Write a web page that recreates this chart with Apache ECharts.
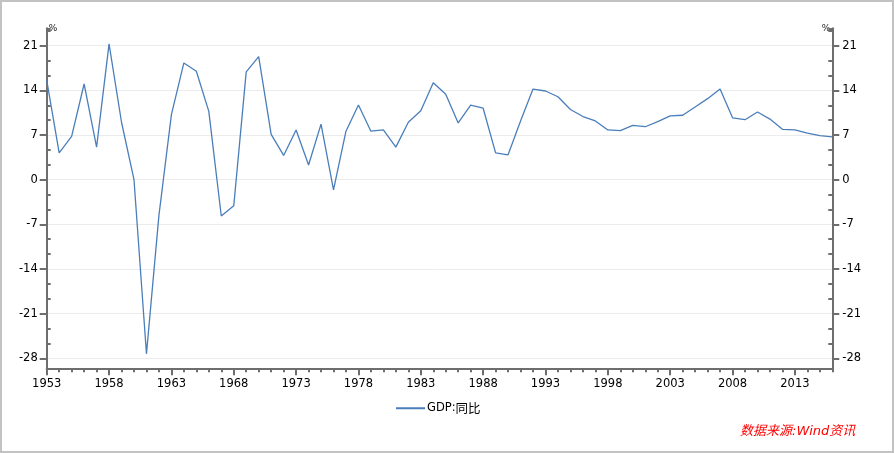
<!DOCTYPE html>
<html><head><meta charset="utf-8">
<script src="https://cdn.jsdelivr.net/npm/echarts@6/dist/echarts.min.js"></script>
<style>
html,body{margin:0;padding:0;background:#fff;}
#c{position:absolute;left:0;top:0;width:894px;height:453px;}
#frame{position:absolute;left:0;top:0;width:894px;height:453px;box-sizing:border-box;border:2px solid #c2c2c2;pointer-events:none;}
</style></head><body>
<div id="c"></div><div id="frame"></div>
<script>
const years = [1953,1954,1955,1956,1957,1958,1959,1960,1961,1962,1963,1964,1965,1966,1967,1968,1969,1970,
  1971,1972,1973,1974,1975,1976,1977,1978,1979,1980,1981,1982,1983,1984,1985,1986,1987,1988,1989,1990,
  1991,1992,1993,1994,1995,1996,1997,1998,1999,2000,2001,2002,2003,2004,2005,2006,2007,2008,2009,2010,
  2011,2012,2013,2014,2015,2016];
const gdpYoY = [15.6,4.2,6.8,15.0,5.1,21.3,9.0,0.0,-27.3,-5.6,10.2,18.3,17.0,10.7,-5.7,-4.1,16.9,19.3,
  7.1,3.8,7.8,2.3,8.7,-1.6,7.6,11.7,7.6,7.8,5.1,9.0,10.8,15.2,13.4,8.9,11.7,11.2,4.2,3.9,
  9.2,14.2,13.9,13.0,11.0,9.9,9.2,7.8,7.7,8.5,8.3,9.1,10.0,10.1,11.4,12.7,14.2,9.7,9.4,10.6,
  9.5,7.9,7.8,7.3,6.9,6.7];
const xTickLabels = [1953,1958,1963,1968,1973,1978,1983,1988,1993,1998,2003,2008,2013];
const yTickLabels = [-28,-21,-14,-7,0,7,14,21];
const seriesName = 'GDP:同比';
const sourceText = '数据来源:Wind资讯';

const X_MIN = 1953, X_MAX = 2016;
const Y_MIN = -29.57, Y_MAX = 23.73;

// minor ticks: thirds between major y ticks, plus axis top
const yMinor = [];
for (let i = 0; i < yTickLabels.length; i++) {
  const v = yTickLabels[i];
  [v + 7/3, v + 14/3].forEach(m => { if (m < Y_MAX) yMinor.push(m); });
}
yMinor.push(Y_MAX);

const axisColor = '#6e6e6e';
const labelFont = { fontFamily: 'DejaVu Sans', fontSize: 11.5, color: '#000' };

function yAxisMajor(pos) {
  return {
    type: 'value', position: pos, min: Y_MIN, max: Y_MAX,
    name: '%', nameLocation: 'end', nameGap: 0,
    nameTextStyle: { fontFamily: 'DejaVu Sans', fontSize: 9, color: '#222',
      align: pos === 'left' ? 'left' : 'right', verticalAlign: 'middle',
      padding: pos === 'left' ? [0,0,0,2] : [0,2,0,0] },
    axisLine: { show: true, lineStyle: { color: axisColor, width: 2 } },
    axisTick: { show: true, inside: false, length: 7, customValues: yTickLabels,
      lineStyle: { color: axisColor, width: 2 } },
    axisLabel: Object.assign({ show: true, margin: pos === 'left' ? 9 : 10, customValues: yTickLabels,
      formatter: v => String(Math.round(v)) }, labelFont),
    splitLine: { show: pos === 'left', lineStyle: { color: '#ebebeb', width: 1 } },
    minorTick: { show: false }
  };
}
function yAxisMinor(pos) {
  return {
    type: 'value', position: pos, min: Y_MIN, max: Y_MAX,
    axisLine: { show: false },
    axisTick: { show: true, inside: true, length: 4, customValues: yMinor,
      lineStyle: { color: axisColor, width: 2 } },
    axisLabel: { show: false },
    splitLine: { show: false }
  };
}

const chart = echarts.init(document.getElementById('c'), null, { renderer: 'canvas' });
chart.setOption({
  animation: false,
  backgroundColor: '#fff',
  grid: { left: 46.7, right: 61.7, top: 28.3, bottom: 84.7, containLabel: false },
  xAxis: [
    {
      type: 'value', position: 'bottom', min: X_MIN, max: X_MAX,
      axisLine: { show: true, onZero: false, lineStyle: { color: axisColor, width: 2 } },
      axisTick: { show: true, inside: false, length: 7, customValues: xTickLabels,
        lineStyle: { color: axisColor, width: 2 } },
      axisLabel: Object.assign({ show: true, margin: 10, customValues: xTickLabels,
        formatter: v => String(Math.round(v)) }, labelFont),
      splitLine: { show: false }
    },
    {
      type: 'value', position: 'bottom', min: X_MIN, max: X_MAX,
      axisLine: { show: false, onZero: false },
      axisTick: { show: true, inside: false, length: 4, customValues: years,
        lineStyle: { color: axisColor, width: 2 } },
      axisLabel: { show: false },
      splitLine: { show: false }
    }
  ],
  yAxis: [yAxisMajor('left'), yAxisMinor('left'), yAxisMajor('right'), yAxisMinor('right')],
  legend: {
    show: true, left: 396, top: 402, padding: 0,
    icon: 'rect', itemWidth: 29, itemHeight: 2, itemGap: 10,
    data: [seriesName],
    formatter: () => '{a|GDP:}{b|同比}',
    textStyle: {
      color: '#000', padding: [0,0,0,-3],
      rich: {
        a: { fontFamily: 'DejaVu Sans', fontSize: 11.5, color: '#000' },
        b: { fontFamily: 'Noto Sans CJK SC', fontSize: 12.5, color: '#000' }
      }
    }
  },
  graphic: [{
    type: 'text', left: 740, top: 425,
    style: { text: sourceText, fill: '#ff0000',
      font: 'italic 13px "DejaVu Sans", "Noto Sans CJK SC"' }
  }],
  series: [{
    name: seriesName, type: 'line', xAxisIndex: 0, yAxisIndex: 0,
    data: years.map((y, i) => [y, gdpYoY[i]]),
    symbol: 'none', showSymbol: false,
    lineStyle: { color: '#4a7ebb', width: 1.3 },
    itemStyle: { color: '#4a7ebb' }
  }]
});
</script>
</body></html>
